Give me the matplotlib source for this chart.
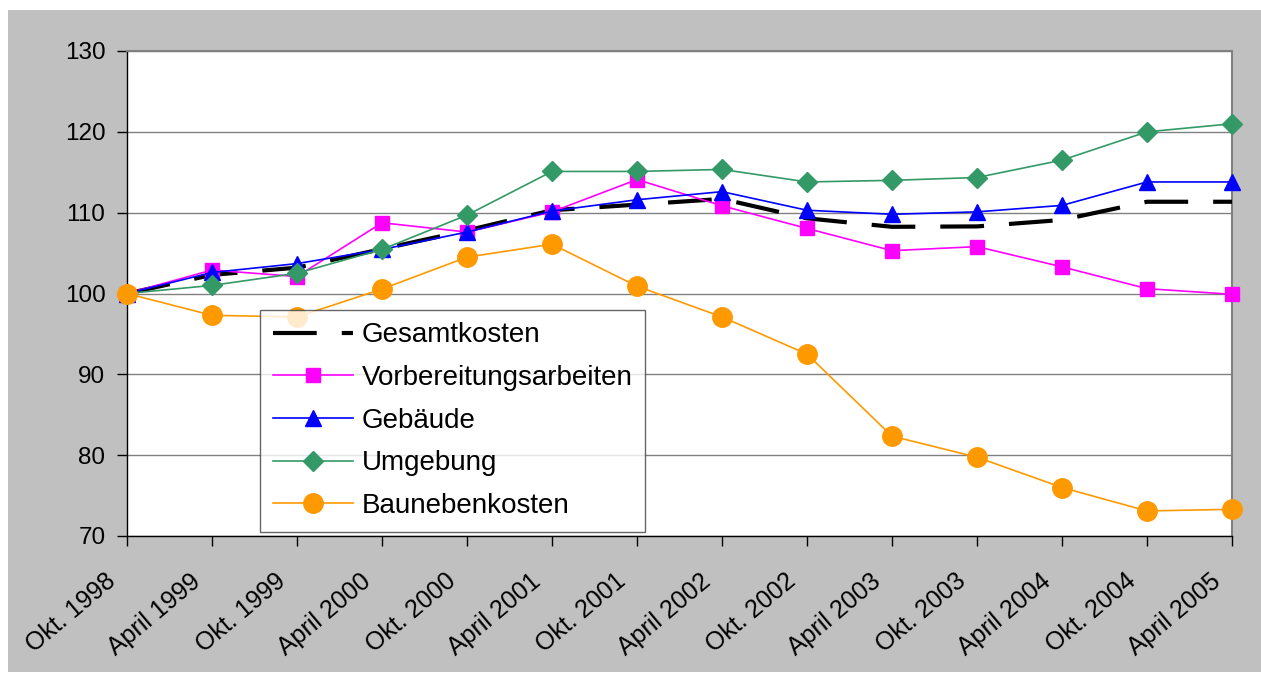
import matplotlib.pyplot as plt
import matplotlib.transforms as mtransforms
import numpy as np

plt.rcParams['font.family'] = ['Liberation Sans', 'DejaVu Sans']

labels = ['Okt. 1998', 'April 1999', 'Okt. 1999', 'April 2000', 'Okt. 2000',
          'April 2001', 'Okt. 2001', 'April 2002', 'Okt. 2002', 'April 2003',
          'Okt. 2003', 'April 2004', 'Okt. 2004', 'April 2005']

gesamt = [100, 102.3, 103.2, 105.5, 107.8, 110.3, 111.0, 111.7, 109.3, 108.25,
          108.3, 109.1, 111.35, 111.35]
vorbereitung = [100, 102.9, 102.1, 108.75, 107.6, 110.1, 114.1, 110.85, 108.05,
                105.3, 105.8, 103.3, 100.6, 99.9]
gebaeude = [100, 102.6, 103.7, 105.45, 107.6, 110.2, 111.6, 112.6, 110.3, 109.8,
            110.1, 110.9, 113.8, 113.8]
umgebung = [100, 101.0, 102.5, 105.45, 109.7, 115.1, 115.1, 115.35, 113.8, 114.0,
            114.35, 116.5, 120.0, 121.0]
baueneben = [100, 97.3, 97.1, 100.55, 104.5, 106.1, 100.9, 97.1, 92.5, 82.35,
             79.75, 76.0, 73.1, 73.3]

x = np.arange(len(labels))

fig = plt.figure(figsize=(12.61, 6.82), dpi=100)
fig.patch.set_facecolor('white')
# grey chart area
bg = plt.Rectangle((8 / 1261, 10 / 682), 1 - 8 / 1261, 1 - 20 / 682,
                   transform=fig.transFigure, facecolor='#C0C0C0', edgecolor='none', zorder=-10)
fig.patches.append(bg)

ax = fig.add_axes([127 / 1261, 1 - 536 / 682, (1232 - 127) / 1261, (536 - 51) / 682])
ax.set_facecolor('white')

ax.plot(x, gesamt, color='black', lw=3.0, dashes=(10.5, 6), label='Gesamtkosten', zorder=3)
ax.plot(x, vorbereitung, color='#FF00FF', lw=1.2, marker='s', ms=10.5,
        label='Vorbereitungsarbeiten', zorder=4, clip_on=False)
ax.plot(x, gebaeude, color='#0000FF', lw=1.2, marker='^', ms=12,
        label='Gebäude', zorder=5, clip_on=False)
ax.plot(x, umgebung, color='#339966', lw=1.2, marker='D', ms=10,
        label='Umgebung', zorder=6, clip_on=False)
ax.plot(x, baueneben, color='#FF9900', lw=1.2, marker='o', ms=14,
        label='Baunebenkosten', zorder=7, clip_on=False)

ax.set_xlim(0, len(labels) - 1)
ax.set_ylim(70, 130)
ax.set_yticks(np.arange(70, 131, 10))
ax.yaxis.grid(True, color='#808080', lw=1.0)
ax.set_axisbelow(True)

ax.set_xticks(x)
ax.set_xticklabels([])
ax.tick_params(axis='both', direction='out', length=7, width=1, colors='black', labelsize=17.5)
ax.tick_params(axis='y', pad=8.5)

# rotated category labels, ending just below/left of each tick
off = mtransforms.ScaledTranslation(-22 / 100, -33 / 100, fig.dpi_scale_trans)
for xi, lab in zip(x, labels):
    ax.text(xi, 0, lab, transform=ax.get_xaxis_transform() + off,
            rotation=40, rotation_mode='anchor', ha='right', va='top', fontsize=18)

for s in ['top', 'right']:
    ax.spines[s].set_color('#808080')
    ax.spines[s].set_linewidth(1.5)
for s in ['left', 'bottom']:
    ax.spines[s].set_color('black')
    ax.spines[s].set_linewidth(1.0)

leg = ax.legend(loc='upper left', bbox_to_anchor=((260 - 127) / 1105, (536 - 310) / 485),
                fontsize=20, frameon=True, fancybox=False, shadow=False,
                handlelength=2.9, handletextpad=0.3, borderpad=0.45, labelspacing=0.6,
                borderaxespad=0)
leg.get_frame().set_edgecolor('#404040')
leg.get_frame().set_linewidth(1.0)
leg.set_zorder(10)

fig.savefig('out.png', dpi=100)
